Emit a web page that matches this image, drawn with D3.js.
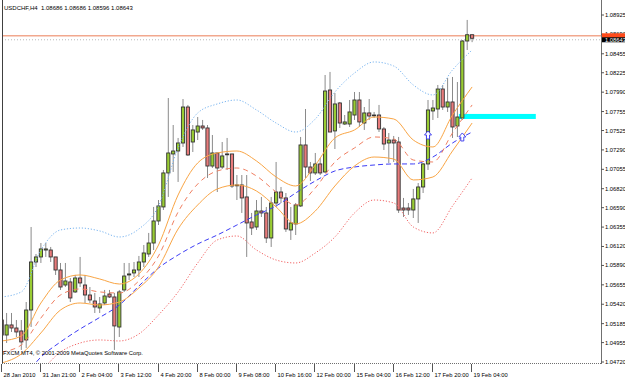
<!DOCTYPE html>
<html lang="en">
<head>
<meta charset="UTF-8">
<script src="https://d3js.org/d3.v7.min.js"></script>
<title>USDCHF H4</title>
<style>
  body { margin: 0; background: #fff; }
  text { font-family: "Liberation Sans", Arial, sans-serif; }
</style>
</head>
<body>
<script>
/*======================*/
/* Chart data (H4 bars) */
/*======================*/
const open = [
  1.05229,1.05047,1.05169,1.05132,1.05096,1.04987,1.05350,1.05932,1.05993,1.06077,
  1.06077,1.05993,1.05835,1.05653,1.05690,1.05569,1.05738,1.05653,1.05532,1.05459,
  1.05375,1.05435,1.05544,1.05508,1.05144,1.05593,1.05775,1.05799,1.05835,1.05932,
  1.06029,1.06162,1.06429,1.06599,1.07011,1.07241,1.07277,1.07374,1.07810,1.07386,
  1.07507,1.07580,1.07556,1.07095,1.07253,1.07083,1.07241,1.07241,1.06865,1.06865,
  1.06720,1.06417,1.06356,1.06550,1.06526,1.06223,1.06647,1.06780,1.06708,1.06320,
  1.06393,1.06611,1.07350,1.07083,1.07011,1.07120,1.07023,1.08016,1.07520,1.07859,
  1.07604,1.07604,1.07713,1.07895,1.07616,1.07738,1.07713,1.07713,1.07544,1.07374,
  1.07410,1.07386,1.06586,1.06586,1.06562,1.06696,1.06841,1.07120,1.07762,1.07786,
  1.08028,1.07810,1.07871,1.07580,1.07677,1.08610,1.08686
];
const high = [
  1.05350,1.05314,1.05314,1.05229,1.05229,1.05447,1.06356,1.06029,1.06162,1.06162,
  1.06114,1.05993,1.05920,1.05920,1.05738,1.05775,1.05993,1.05775,1.05629,1.05556,
  1.05508,1.05593,1.05593,1.05556,1.05593,1.05920,1.05920,1.05932,1.06005,1.06138,
  1.06284,1.06599,1.06683,1.07047,1.07919,1.07592,1.07435,1.07907,1.07835,1.07592,
  1.07689,1.07653,1.07592,1.07471,1.07253,1.07386,1.07435,1.07241,1.06986,1.06986,
  1.06986,1.06526,1.06683,1.06720,1.06599,1.06720,1.07144,1.06841,1.06768,1.06599,
  1.06647,1.07447,1.07786,1.07144,1.07253,1.07192,1.08198,1.08235,1.07980,1.07871,
  1.07713,1.07895,1.07992,1.07992,1.07810,1.07907,1.07750,1.07835,1.07568,1.07495,
  1.07459,1.07447,1.06708,1.06647,1.06817,1.06889,1.07132,1.07895,1.07895,1.08077,
  1.08077,1.08162,1.08174,1.08113,1.08622,1.08865,1.08686
];
const low = [
  1.04902,1.04951,1.05084,1.05023,1.04866,1.04890,1.05144,1.05871,1.05920,1.05993,
  1.05932,1.05775,1.05593,1.05629,1.05447,1.05556,1.05629,1.05435,1.05435,1.05314,
  1.05314,1.05411,1.05496,1.04866,1.05023,1.05569,1.05714,1.05750,1.05750,1.05871,
  1.05993,1.06077,1.06380,1.06562,1.06720,1.07023,1.06902,1.07326,1.07217,1.07265,
  1.07410,1.07532,1.06950,1.07071,1.06780,1.07059,1.07047,1.06829,1.06683,1.06526,
  1.05993,1.06259,1.06320,1.06477,1.06162,1.06114,1.06599,1.06647,1.06296,1.06199,
  1.06259,1.06599,1.06950,1.06914,1.06986,1.06986,1.07011,1.07507,1.07301,1.07556,
  1.07592,1.07568,1.07653,1.07568,1.07532,1.07653,1.07677,1.07507,1.07289,1.07132,
  1.07144,1.06526,1.06477,1.06502,1.06465,1.06405,1.06768,1.07047,1.07653,1.07677,
  1.07774,1.07750,1.07435,1.07447,1.07653,1.08501,1.08596
];
const close = [
  1.05047,1.05169,1.05132,1.05084,1.04963,1.05350,1.05932,1.05993,1.06090,1.06090,
  1.05993,1.05835,1.05629,1.05702,1.05496,1.05738,1.05678,1.05532,1.05472,1.05387,
  1.05423,1.05520,1.05508,1.05157,1.05569,1.05762,1.05787,1.05835,1.05932,1.06041,
  1.06162,1.06429,1.06611,1.07011,1.07253,1.07277,1.07374,1.07810,1.07229,1.07532,
  1.07580,1.07556,1.07095,1.07253,1.07071,1.07217,1.07241,1.06853,1.06865,1.06708,
  1.06405,1.06344,1.06550,1.06526,1.06223,1.06647,1.06780,1.06708,1.06332,1.06405,
  1.06623,1.07350,1.07083,1.07011,1.07120,1.07011,1.08004,1.07507,1.07847,1.07616,
  1.07629,1.07750,1.07895,1.07629,1.07738,1.07701,1.07713,1.07544,1.07362,1.07410,
  1.07374,1.06562,1.06562,1.06562,1.06696,1.06841,1.07120,1.07774,1.07798,1.08028,
  1.07810,1.07871,1.07568,1.07689,1.08610,1.08686,1.08643
];

// indicator readings, taken every 4th bar
const sampleBars = [0,4,8,12,16,20,24,28,32,36,40,44,48,52,56,60,64,68,72,76,80,84,88,92,96];
const outerUpper = [1.05508,1.05569,1.06077,1.06320,1.06344,1.06308,1.06235,1.06332,1.06611,1.07314,1.07738,1.07847,1.07895,1.07774,1.07616,1.07507,1.07665,1.07992,1.08222,1.08356,1.08307,1.08077,1.07956,1.08259,1.08501];
const outerLower = [1.04380,1.04480,1.04620,1.04841,1.04950,1.04987,1.04975,1.05060,1.05290,1.05569,1.05920,1.06199,1.06247,1.06077,1.05956,1.05920,1.06041,1.06235,1.06526,1.06683,1.06647,1.06356,1.06284,1.06611,1.06950];
const slowMa     = [1.04330,1.04500,1.04780,1.04963,1.05120,1.05260,1.05410,1.05641,1.05859,1.06017,1.06150,1.06259,1.06380,1.06502,1.06611,1.06768,1.06914,1.07035,1.07083,1.07107,1.07120,1.07120,1.07204,1.07374,1.07507];
const innerUpper = [1.04975,1.05035,1.05435,1.05714,1.05775,1.05726,1.05665,1.05787,1.06138,1.06744,1.07132,1.07253,1.07277,1.07156,1.06962,1.06853,1.07107,1.07435,1.07532,1.07689,1.07665,1.07410,1.07326,1.07713,1.08053];
const middleMa   = [1.04841,1.04926,1.05253,1.05532,1.05605,1.05569,1.05556,1.05702,1.06005,1.06538,1.06877,1.07035,1.07071,1.06974,1.06780,1.06623,1.06829,1.07144,1.07314,1.07447,1.07423,1.07168,1.07144,1.07495,1.07835];
const innerLower = [1.04708,1.04817,1.05072,1.05350,1.05435,1.05411,1.05447,1.05617,1.05871,1.06332,1.06623,1.06817,1.06865,1.06792,1.06599,1.06393,1.06550,1.06853,1.07095,1.07204,1.07180,1.06926,1.06962,1.07277,1.07616];

// axes
const yTickLabels = ["1.08925","1.08690","1.08455","1.08225","1.07990","1.07755","1.07525","1.07290","1.07055","1.06820","1.06590","1.06355","1.06120","1.05890","1.05655","1.05420","1.05185","1.04955","1.04720"];
const xTickBars = [0,8,16,24,32,40,48,56,64,72,80,88,96];
const xTickLabels = ["28 Jan 2010","31 Jan 21:00","2 Feb 04:00","3 Feb 12:00","4 Feb 20:00","8 Feb 00:00","9 Feb 08:00","10 Feb 16:00","12 Feb 00:00","15 Feb 04:00","16 Feb 12:00","17 Feb 20:00","19 Feb 04:00"];

// objects on chart
const bid = 1.08643, ask = 1.08673;
const zoneBars = [93.3, 109];
const zonePrices = [1.07665, 1.07726];
const arrowBars = [87, 94];
const arrowPrices = [1.07471, 1.07447];

/*==============*/
/* SVG + scales */
/*==============*/
const W = 625, H = 381;
const plotL = 2, plotR = 601, plotB = 363;

const svg = d3.select("body").append("svg")
  .attr("width", W).attr("height", H);

const x = d3.scaleLinear().domain([0, 96]).range([1.7, 472.1]);
const y = d3.scaleLinear().domain([1.04720, 1.08925]).range([362, 15]);

svg.append("clipPath").attr("id", "plot")
  .append("rect").attr("x", plotL + 1).attr("y", 0)
  .attr("width", plotR - plotL - 1).attr("height", plotB);

const plot = svg.append("g").attr("clip-path", "url(#plot)");

/*==================*/
/* Price lines/zone */
/*==================*/
plot.append("line")
  .attr("x1", plotL).attr("x2", plotR)
  .attr("y1", y(bid) + 1.5).attr("y2", y(bid) + 1.5)
  .attr("stroke", "#b8b8b8").attr("stroke-dasharray", "1 2");
plot.append("line")
  .attr("x1", plotL).attr("x2", plotR)
  .attr("y1", y(ask)).attr("y2", y(ask))
  .attr("stroke", "#f2a88e").attr("stroke-width", 1.6);

plot.append("rect")
  .attr("x", x(zoneBars[0])).attr("width", x(zoneBars[1]) - x(zoneBars[0]))
  .attr("y", y(zonePrices[1])).attr("height", y(zonePrices[0]) - y(zonePrices[1]))
  .attr("fill", "#00ffff");

/*=========*/
/* Candles */
/*=========*/
const bars = d3.range(open.length);
const candle = plot.append("g").selectAll("g").data(bars).enter().append("g");

candle.append("line")
  .attr("x1", i => x(i)).attr("x2", i => x(i))
  .attr("y1", i => y(high[i])).attr("y2", i => y(low[i]))
  .attr("stroke", "#8a8a8a").attr("stroke-width", 1);

candle.append("rect")
  .attr("x", i => x(i) - 1.6).attr("width", 3.2)
  .attr("y", i => y(Math.max(open[i], close[i])))
  .attr("height", i => Math.max(0.8, Math.abs(y(open[i]) - y(close[i]))))
  .attr("fill", i => close[i] > open[i] ? "#99cc33" : close[i] < open[i] ? "#e87b7b" : "#333")
  .attr("stroke", "#333").attr("stroke-width", 0.9);

/*============*/
/* Indicators */
/*============*/
const line = d3.line()
  .x((d, i) => x(sampleBars[i]))
  .y(d => y(d))
  .curve(d3.curveMonotoneX);

const series = [
  [outerUpper, "#78b4f0", "1.2 1.8"],
  [outerLower, "#f26262", "1.2 1.8"],
  [slowMa,     "#3c3cf5", "5 3"],
  [middleMa,   "#f07f62", "5 4"],
  [innerUpper, "#f9a545", null],
  [innerLower, "#f9a545", null]
];
series.forEach(([vals, col, dash]) => {
  plot.append("path")
    .attr("d", line(vals))
    .attr("fill", "none")
    .attr("stroke", col)
    .attr("stroke-width", 1)
    .attr("stroke-dasharray", dash);
});

// arrow objects
arrowBars.forEach((b, k) => {
  const cx = x(b), cy = y(arrowPrices[k]);
  plot.append("path")
    .attr("d", `M${cx},${cy - 4} L${cx + 3.5},${cy} L${cx + 1.5},${cy} L${cx + 1.5},${cy + 4} L${cx - 1.5},${cy + 4} L${cx - 1.5},${cy} L${cx - 3.5},${cy} Z`)
    .attr("fill", "#fff").attr("stroke", "#4646f0").attr("stroke-width", 1);
});

/*======*/
/* Axes */
/*======*/
svg.append("line").attr("x1", plotL + 0.5).attr("x2", plotL + 0.5)
  .attr("y1", 0).attr("y2", plotB).attr("stroke", "#404040");
svg.append("line").attr("x1", plotR + 0.5).attr("x2", plotR + 0.5)
  .attr("y1", 0).attr("y2", plotB + 1).attr("stroke", "#707070");
svg.append("line").attr("x1", plotL).attr("x2", plotR)
  .attr("y1", plotB + 0.5).attr("y2", plotB + 0.5)
  .attr("stroke", "#707070").attr("stroke-dasharray", "1 1");

// price axis
const yAx = svg.append("g");
yTickLabels.forEach(t => {
  const ty = y(+t);
  yAx.append("line").attr("x1", plotR).attr("x2", plotR + 3)
    .attr("y1", ty).attr("y2", ty).attr("stroke", "#555");
  yAx.append("text").attr("x", plotR + 4).attr("y", ty + 2)
    .attr("font-size", 5.8).attr("fill", "#000").text(t);
});

// bid / ask tags
svg.append("rect").attr("x", plotR + 1).attr("y", y(ask) - 2.5)
  .attr("width", W - plotR - 1).attr("height", 4.5).attr("fill", "#ff4a1a");
svg.append("rect").attr("x", plotR + 1).attr("y", y(bid) - 1)
  .attr("width", W - plotR - 1).attr("height", 5).attr("fill", "#000");
svg.append("text").attr("x", plotR + 4).attr("y", y(bid) + 3.3)
  .attr("font-size", 5.8).attr("fill", "#fff").text(bid.toFixed(5));

// time axis
xTickBars.forEach((b, k) => {
  const tx = Math.round(x(b)) - 0.5;
  svg.append("line").attr("x1", tx).attr("x2", tx)
    .attr("y1", plotB + 1).attr("y2", plotB + 9).attr("stroke", "#555");
  svg.append("text").attr("x", tx + 2).attr("y", 377)
    .attr("font-size", 5.8).attr("fill", "#000").text(xTickLabels[k]);
});

/*=======*/
/* Texts */
/*=======*/
svg.append("text").attr("x", 4).attr("y", 10).attr("font-size", 6)
  .attr("fill", "#000").attr("xml:space", "preserve")
  .text(`USDCHF,H4  ${open[96].toFixed(5)} ${high[96].toFixed(5)} ${low[96].toFixed(5)} ${close[96].toFixed(5)}`);

svg.append("text").attr("x", 3).attr("y", 355).attr("font-size", 5.8)
  .attr("fill", "#000").text("FXCM MT4, © 2001-2009 MetaQuotes Software Corp.");
</script>
</body>
</html>
